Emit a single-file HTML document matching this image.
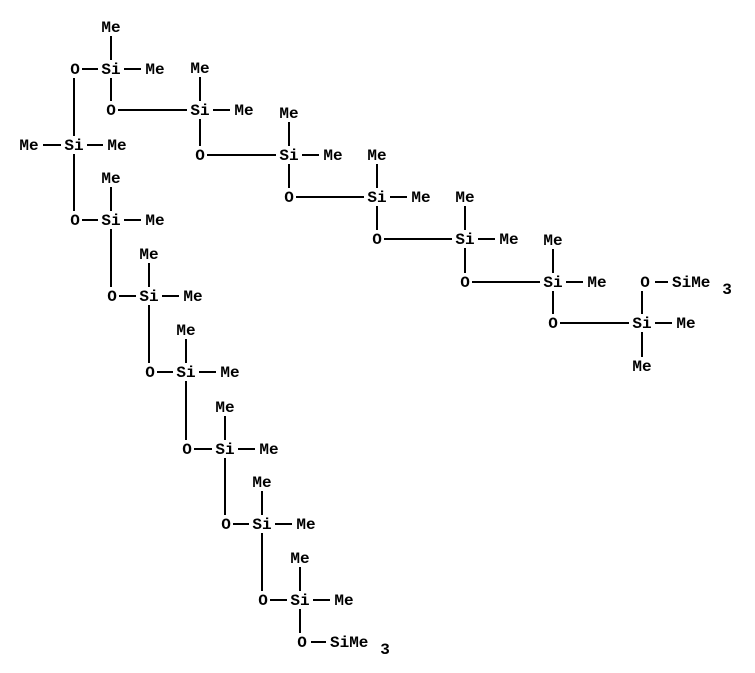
<!DOCTYPE html>
<html><head><meta charset="utf-8"><style>
html,body{margin:0;padding:0;background:#fff;}
svg{display:block;}
text{font-family:"Liberation Mono",monospace;font-size:16px;font-weight:bold;fill:#000;}
line{stroke:#000;stroke-width:2;}
</style></head><body>
<svg id="s" width="755" height="673" xmlns="http://www.w3.org/2000/svg"></svg>
<script>
(function(){
var s=document.getElementById('s');
var NS='http://www.w3.org/2000/svg';
function T(x,y,t,anchor){var e=document.createElementNS(NS,'text');e.setAttribute('x',x);e.setAttribute('y',y+5);e.setAttribute('text-anchor',anchor||'middle');e.textContent=t;s.appendChild(e);}
function L(x1,y1,x2,y2){var e=document.createElementNS(NS,'line');e.setAttribute('x1',x1);e.setAttribute('y1',y1);e.setAttribute('x2',x2);e.setAttribute('y2',y2);s.appendChild(e);}
var hw={O:4,Si:10,Me:11};
function H(xa,a,xb,b,y){L(xa+hw[a]+3,y,xb-hw[b]-3,y);}
function V(x,ya,yb){L(x,ya+9,x,yb-9);}
var chain=[[111,69],[200,110],[289,155],[377,197],[465,239],[553,282],[642,323]];
chain.forEach(function(p,i){
 var x=p[0],y=p[1];
 T(x,y,'Si');
 T(x+44,y,'Me');H(x,'Si',x+44,'Me',y);
 if(i<6){T(x,y-42,'Me');V(x,y-42,y);
  var ny=chain[i+1][1];T(x,ny,'O');V(x,y,ny);H(x,'O',chain[i+1][0],'Si',ny);}
 else{T(x,y+43,'Me');V(x,y,y+43);T(x+3,y-41,'O');V(x,y-41,y);}
});
L(655,282,668,282);T(672,282,'SiMe','start');T(727,289,'3');
T(75,69,'O');H(75,'O',111,'Si',69);
T(74,145,'Si');V(74,69,145);T(29,145,'Me');T(117,145,'Me');
H(29,'Me',74,'Si',145);H(74,'Si',117,'Me',145);
T(75,220,'O');V(74,145,220);
var low=[[111,220],[149,296],[186,372],[225,449],[262,524],[300,600]];
H(75,'O',111,'Si',220);
low.forEach(function(p,i){
 var x=p[0],y=p[1];
 T(x,y,'Si');T(x,y-42,'Me');V(x,y-42,y);
 T(x+44,y,'Me');H(x,'Si',x+44,'Me',y);
 if(i<5){var n=low[i+1];T(x+1,n[1],'O');V(x,y,n[1]);H(x+1,'O',n[0],'Si',n[1]);}
});
T(302,642,'O');V(300,600,642);L(311,642,326,642);T(330,642,'SiMe','start');T(385,649,'3');
})();
</script>
</body></html>
